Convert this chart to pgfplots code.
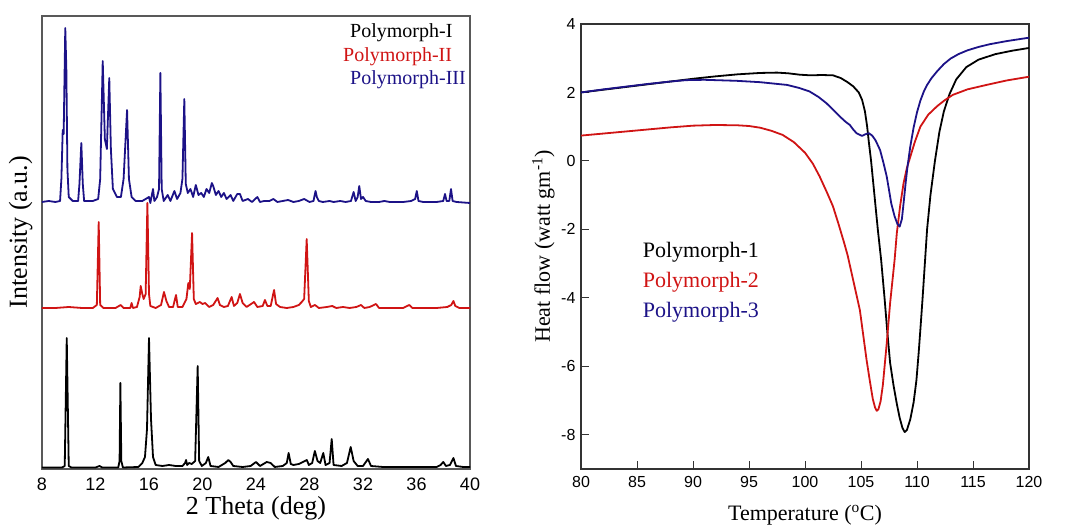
\documentclass[border=0pt]{standalone}
\usepackage{pgfplots}
\pgfplotsset{compat=1.18}
\usepackage{fontspec}
\setmainfont{Liberation Serif}
\newfontfamily\arial{Liberation Sans}
\definecolor{xblue}{RGB}{28,18,135}
\definecolor{xred}{RGB}{208,20,20}
\begin{document}
\begin{tikzpicture}
\useasboundingbox (0,0) rectangle (1081pt,526pt);
% ---------------- Left panel: XRD ----------------
\begin{axis}[
  at={(42pt,57pt)}, anchor=south west,
  scale only axis, width=428pt, height=453pt,
  xmin=8, xmax=40, ymin=0, ymax=453,
  xtick={8,12,16,20,24,28,32,36,40},
  xticklabels={8,12,16,20,24,28,32,36,40},
  ytick=\empty,
  major tick length=0pt,
  axis line style={draw=black!65, line width=1.2pt},
  ticklabel style={font=\arial\fontsize{18}{18}\selectfont},
  xticklabel style={yshift=-5pt},
  xlabel={2 Theta (deg)},
  xlabel style={font=\fontsize{26}{26}\selectfont, at={(axis description cs:0.5,0)}, anchor=center, yshift=-39pt},
  ylabel={Intensity (a.u.)},
  ylabel style={font=\fontsize{26}{26}\selectfont, at={(axis description cs:-0.05,0.523)}, anchor=center},
  clip=true,
]
\addplot[xblue, line width=1.8pt, line join=round] coordinates {
(8.0,267)(8.5,268)(9.0,267)(9.35,268)(9.45,290)(9.55,339)(9.62,335)(9.74,441)(9.82,400)(9.9,300)(10.0,272)(10.3,268)(10.7,268)(10.8,285)(10.94,326)(11.05,285)(11.15,268)(11.8,268)(12.2,270)(12.35,290)(12.54,408)(12.7,330)(12.85,320)(13.03,391)(13.15,320)(13.3,280)(13.6,272)(13.9,272)(14.1,290)(14.36,359)(14.5,290)(14.7,272)(15.0,268)(15.5,268)(16.0,272)(16.1,266)(16.3,280)(16.4,268)(16.6,272)(16.75,280)(16.85,396)(16.95,280)(17.1,268)(17.4,274)(17.6,268)(17.9,278)(18.1,270)(18.35,276)(18.5,290)(18.64,370)(18.75,285)(18.9,276)(19.1,280)(19.3,272)(19.5,284)(19.7,274)(19.9,276)(20.1,272)(20.3,280)(20.5,276)(20.7,286)(20.8,283)(21.0,274)(21.2,278)(21.4,272)(21.6,276)(21.8,270)(22.1,274)(22.3,268)(22.6,275)(22.8,275)(23.0,268)(23.4,270)(23.7,267)(24.1,272)(24.3,267)(24.6,268)(25.0,268)(25.3,270)(25.6,267)(26.0,268)(26.4,269)(26.8,267)(27.2,268)(27.6,270)(28.0,267)(28.3,268)(28.45,278)(28.55,272)(28.7,268)(29.0,267)(29.5,268)(29.8,267)(30.3,268)(30.7,267)(31.1,268)(31.3,277)(31.45,268)(31.6,272)(31.72,283)(31.85,270)(32.0,272)(32.2,268)(32.6,267)(33.2,267)(33.6,268)(34.0,267)(34.5,267)(35.0,267)(35.6,268)(35.9,270)(36.02,278)(36.15,268)(36.5,267)(37.0,267)(37.5,267)(38.0,268)(38.13,275)(38.25,268)(38.45,268)(38.58,280)(38.7,268)(39.0,267)(40.0,266)
};
\addplot[xred, line width=1.8pt, line join=round] coordinates {
(8,161)(9,161)(10,162)(11,161)(11.8,161)(12.1,164)(12.24,247)(12.35,164)(12.6,161)(13.5,161)(13.88,164)(14.1,161)(14.6,161)(14.7,166)(14.8,161)(15.1,162)(15.3,172)(15.38,183)(15.5,175)(15.6,170)(15.75,175)(15.88,266)(16.0,175)(16.1,163)(16.5,161)(16.9,164)(17.12,177)(17.3,168)(17.5,162)(17.8,162)(18.02,174)(18.15,162)(18.5,162)(18.8,170)(18.94,186)(19.05,180)(19.22,236)(19.35,170)(19.5,165)(19.8,167)(20.0,165)(20.2,166)(20.5,162)(20.8,164)(21.13,171)(21.3,164)(21.6,162)(21.9,163)(22.18,172)(22.35,163)(22.6,166)(22.8,175)(23.0,166)(23.3,162)(23.85,167)(24.1,162)(24.5,163)(24.67,169)(24.85,163)(25.1,163)(25.35,179)(25.5,165)(25.8,162)(26.3,161)(26.8,162)(27.2,164)(27.42,167)(27.6,170)(27.79,230)(27.95,168)(28.1,162)(28.41,164)(28.7,161)(29.3,162)(29.7,163)(30.0,161)(30.5,162)(31.0,161)(31.5,162)(31.85,164)(32.1,161)(32.5,162)(32.97,165)(33.2,161)(34,161)(35,161)(35.46,164)(35.7,161)(36.5,161)(37.5,161)(38.3,162)(38.6,164)(38.76,168)(38.9,163)(39.2,161)(40,161)
};
\addplot[black, line width=1.8pt, line join=round] coordinates {
(8,1.5)(9.5,1.5)(9.7,3)(9.85,131)(10.0,3)(10.2,1.5)(12.0,1.5)(12.3,3)(12.5,1.5)(13.7,1.5)(13.8,8)(13.86,86)(13.93,8)(14.05,1.5)(15.2,2)(15.5,6)(15.7,12)(15.85,40)(16.0,131)(16.15,50)(16.3,12)(16.5,4)(17.0,3)(17.5,4)(18.0,3)(18.5,3)(18.7,6)(18.77,9)(18.85,4)(19.0,6)(19.2,5)(19.45,8)(19.64,103)(19.75,8)(19.95,3)(20.25,6)(20.43,12)(20.6,3)(21.2,2)(21.7,6)(21.93,9)(22.1,7)(22.3,3)(23.0,2)(23.6,3)(24.0,7)(24.3,3)(24.8,7)(25.1,6)(25.4,2)(26.0,3)(26.3,6)(26.44,16)(26.6,5)(26.8,4)(27.2,5)(27.5,7)(27.8,9)(27.95,4)(28.2,6)(28.4,18)(28.6,8)(28.8,6)(29.03,16)(29.2,4)(29.5,6)(29.66,30)(29.8,4)(30.4,3)(30.8,6)(31.08,22)(31.3,8)(31.6,3)(32.0,3)(32.37,10)(32.6,3)(33.5,2)(34.5,2)(35.5,2)(36.5,2)(37.5,2)(37.8,4)(38.0,7)(38.2,3)(38.5,4)(38.76,11)(38.95,3)(39.5,2)(40,2)
};
\node[anchor=west, font=\fontsize{20}{20}\selectfont, text=black, inner sep=0pt] at (axis cs:31.03,436) {Polymorph-I};
\node[anchor=west, font=\fontsize{20}{20}\selectfont, text=xred, inner sep=0pt] at (axis cs:30.5,412.5) {Polymorph-II};
\node[anchor=west, font=\fontsize{20}{20}\selectfont, text=xblue, inner sep=0pt] at (axis cs:31.03,389) {Polymorph-III};
\end{axis}
% ---------------- Right panel: DSC ----------------
\begin{axis}[
  at={(581pt,57pt)}, anchor=south west,
  scale only axis, width=448pt, height=445pt,
  xmin=80, xmax=120, ymin=-9, ymax=4,
  xtick={80,85,90,95,100,105,110,115,120},
  xticklabels={80,85,90,95,100,105,110,115,120},
  ytick={-8,-6,-4,-2,0,2,4},
  yticklabels={-8,-6,-4,-2,0,2,4},
  tick pos=left, tick align=inside,
  major tick length=8pt,
  tick style={black!80, line width=1pt},
  axis line style={draw=black!80, line width=1.2pt},
  ticklabel style={font=\arial\fontsize{16}{16}\selectfont},
  xticklabel style={yshift=-4pt},
  yticklabel style={xshift=-2pt},
  xlabel={Temperature (\textsuperscript{o}C)},
  xlabel style={font=\fontsize{22}{22}\selectfont, at={(axis description cs:0.5,0)}, anchor=center, yshift=-46pt},
  ylabel={Heat flow (watt gm\textsuperscript{-1})},
  ylabel style={font=\fontsize{22}{22}\selectfont, at={(axis description cs:-0.084,0.5)}, anchor=center},
]
\addplot[black, line width=1.8pt, line join=round] coordinates {
(80,2.0)(82,2.08)(84,2.16)(86,2.24)(88,2.32)(90,2.40)(92,2.47)(94,2.53)(96,2.57)(97.5,2.58)(98.5,2.56)(99.5,2.52)(100.5,2.50)(101.5,2.51)(102.5,2.50)(103.2,2.42)(103.8,2.30)(104.3,2.18)(104.8,2.0)(105.1,1.78)(105.35,1.45)(105.55,1.0)(105.7,0.55)(105.9,0.0)(106.2,-1.0)(106.5,-2.0)(106.8,-2.9)(107.1,-4.0)(107.35,-5.0)(107.6,-5.9)(107.9,-6.55)(108.2,-7.1)(108.45,-7.5)(108.7,-7.8)(108.9,-7.92)(109.1,-7.86)(109.4,-7.55)(109.7,-7.05)(109.95,-6.4)(110.15,-5.6)(110.35,-4.7)(110.5,-4.0)(110.7,-3.0)(110.9,-2.0)(111.2,-1.0)(111.6,0.0)(112.0,0.85)(112.4,1.45)(112.9,1.95)(113.5,2.38)(114.4,2.74)(115.5,2.96)(117,3.12)(118.5,3.22)(120,3.30)
};
\addplot[xred, line width=1.8pt, line join=round] coordinates {
(80,0.74)(82,0.80)(84,0.86)(86,0.92)(88,0.98)(90,1.03)(92,1.05)(94,1.04)(95,1.02)(96,0.97)(97,0.88)(98,0.76)(99,0.55)(100,0.24)(100.7,-0.08)(101.3,-0.45)(102,-0.95)(102.5,-1.33)(103,-1.85)(103.5,-2.4)(103.8,-2.75)(104.3,-3.48)(104.9,-4.36)(105.5,-5.82)(105.8,-6.45)(106.05,-6.95)(106.25,-7.2)(106.4,-7.3)(106.55,-7.26)(106.75,-7.02)(106.95,-6.55)(107.3,-5.32)(107.6,-4.15)(108.0,-2.89)(108.2,-2.1)(108.5,-1.3)(108.8,-0.65)(109.1,-0.2)(109.4,0.12)(109.8,0.55)(110.3,1.0)(111,1.35)(111.8,1.6)(112.5,1.78)(113.2,1.93)(114.5,2.09)(116.2,2.22)(118,2.35)(120,2.46)
};
\addplot[xblue, line width=1.8pt, line join=round] coordinates {
(80,2.0)(82,2.09)(84,2.17)(86,2.25)(88,2.32)(89.4,2.36)(91,2.37)(93.9,2.34)(96,2.30)(98.4,2.22)(99.5,2.13)(100.4,2.03)(101.2,1.87)(101.9,1.69)(102.5,1.50)(103.1,1.30)(103.6,1.15)(104.0,1.05)(104.3,0.92)(104.6,0.81)(105.1,0.73)(105.4,0.78)(105.7,0.81)(106.0,0.74)(106.3,0.6)(106.7,0.32)(107.0,-0.05)(107.3,-0.46)(107.7,-1.24)(108.0,-1.62)(108.25,-1.84)(108.45,-1.92)(108.65,-1.7)(108.8,-1.24)(109.0,-0.6)(109.15,-0.17)(109.4,0.42)(109.7,0.98)(110.0,1.42)(110.3,1.76)(110.6,2.02)(110.9,2.22)(111.3,2.42)(111.8,2.62)(112.4,2.83)(113.0,2.99)(113.7,3.12)(114.5,3.23)(115.5,3.33)(116.5,3.41)(118,3.5)(120,3.6)
};
\node[anchor=west, font=\fontsize{22}{22}\selectfont, text=black, inner sep=0pt] at (axis cs:85.5,-2.66) {Polymorph-1};
\node[anchor=west, font=\fontsize{22}{22}\selectfont, text=xred, inner sep=0pt] at (axis cs:85.5,-3.53) {Polymorph-2};
\node[anchor=west, font=\fontsize{22}{22}\selectfont, text=xblue, inner sep=0pt] at (axis cs:85.5,-4.41) {Polymorph-3};
\end{axis}
\end{tikzpicture}
\end{document}
